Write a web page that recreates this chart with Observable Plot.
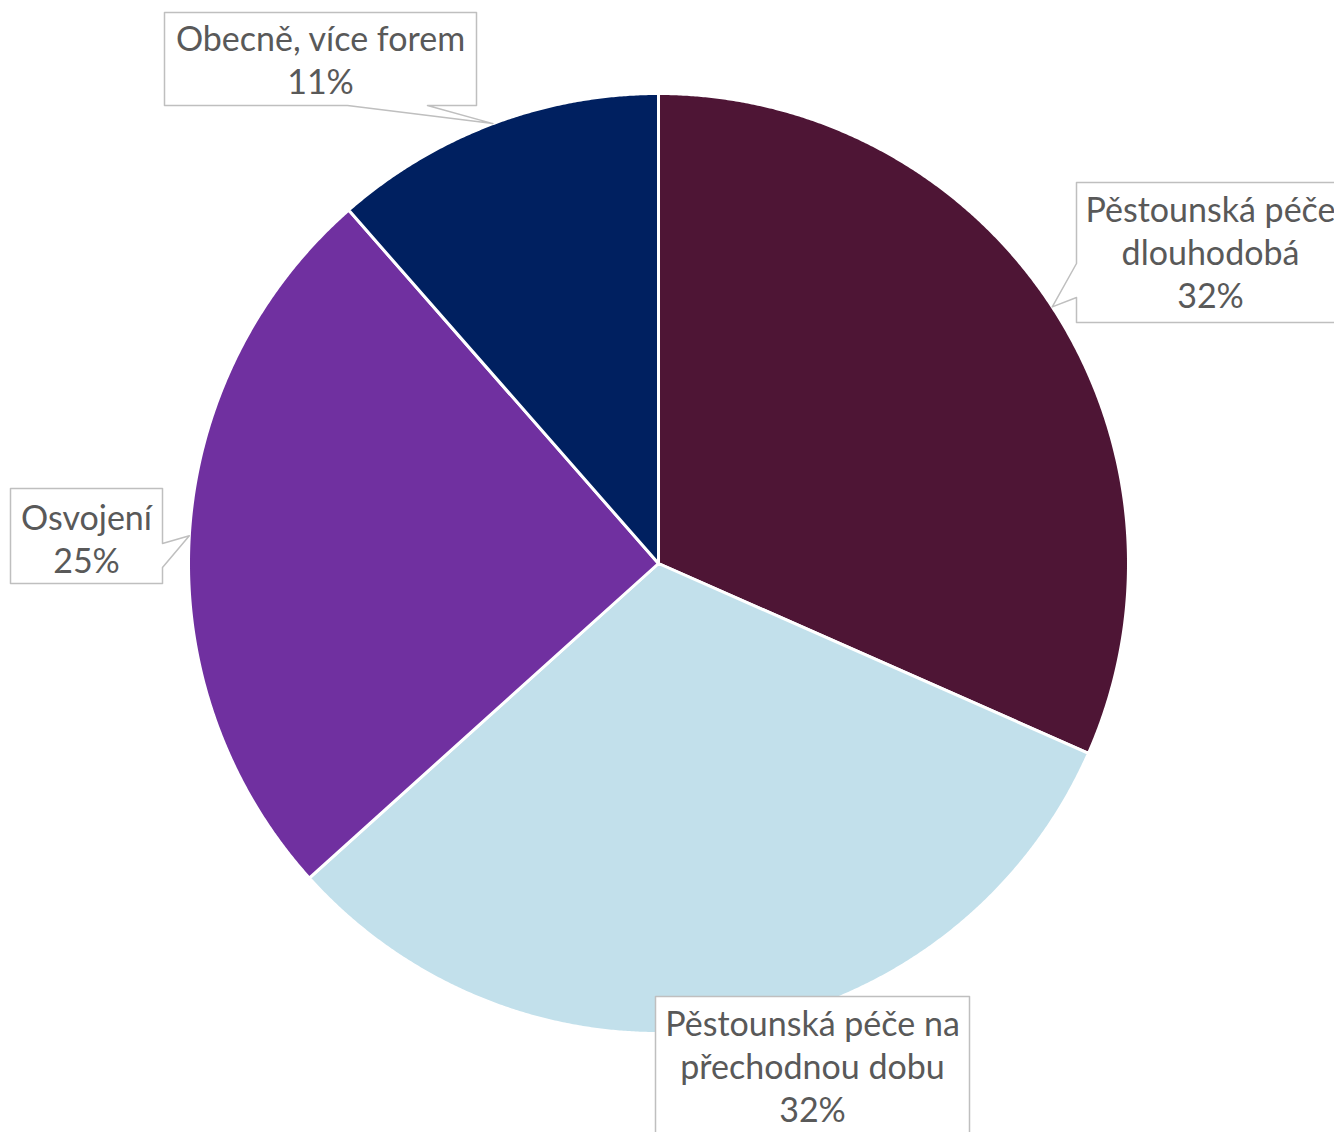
<!DOCTYPE html>
<html>
<head>
<meta charset="utf-8">
<script src="https://cdn.jsdelivr.net/npm/d3@7"></script>
<script src="https://cdn.jsdelivr.net/npm/@observablehq/plot@0.6"></script>
<style>
  html, body { margin: 0; padding: 0; background: #fff; }
  #chart svg { display: block; }
</style>
</head>
<body>
<div id="chart"></div>
<script>
// ---- data ----
const categories = [
  "Pěstounská péče dlouhodobá",
  "Pěstounská péče na přechodnou dobu",
  "Osvojení",
  "Obecně, více forem"
];
const shares = [31.6, 31.7, 25.2, 11.45];
const labelNames = [
  "Pěstounská péče\ndlouhodobá",
  "Pěstounská péče na\npřechodnou dobu",
  "Osvojení",
  "Obecně, více forem"
];
const sliceColors = ["#4E1535", "#C2E0EB", "#7030A0", "#002060"];

// ---- layout ----
const W = 1334, H = 1132;
const cx = 658, cy = 563, R = 470;
// callout boxes (pixel layout): side = where pointer leaves the box, b1/b2 = pointer base
const callouts = [
  {x0: 1076, x1: 1345, y0: 182, y1: 322, side: "left", b1: 263, b2: 297, ty: 251},
  {x0: 655, x1: 969, y0: 996, y1: 1145, side: "none", ty: 1065},
  {x0: 10, x1: 162, y0: 488, y1: 583, side: "right", b1: 543, b2: 567, ty: 537},
  {x0: 164, x1: 476, y0: 12, y1: 105, side: "bottom", b1: 347, b2: 427, ty: 58}
];

// ---- geometry from data ----
const total = d3.sum(shares);
let acc = 0;
const slices = shares.map((v, i) => {
  const a0 = acc / total * 2 * Math.PI;
  acc += v;
  const a1 = acc / total * 2 * Math.PI;
  return {name: categories[i], value: v, a0, a1, mid: (a0 + a1) / 2};
});
const px = (a, r) => cx + r * Math.sin(a);
const py = (a, r) => cy - r * Math.cos(a);

const slicePts = slices.flatMap(s => {
  const n = Math.max(2, Math.ceil((s.a1 - s.a0) / (Math.PI / 720)));
  const pts = [{name: s.name, x: cx, y: cy}];
  for (let k = 0; k <= n; k++) {
    const a = s.a0 + (s.a1 - s.a0) * k / n;
    pts.push({name: s.name, x: px(a, R), y: py(a, R)});
  }
  return pts;
});

const calloutPts = slices.flatMap((s, i) => {
  const c = callouts[i];
  const tip = {x: px(s.mid, R), y: py(s.mid, R)};
  let p;
  if (c.side === "left") {
    p = [[c.x0, c.y0], [c.x1, c.y0], [c.x1, c.y1], [c.x0, c.y1], [c.x0, c.b2], [tip.x, tip.y], [c.x0, c.b1]];
  } else if (c.side === "right") {
    p = [[c.x0, c.y0], [c.x1, c.y0], [c.x1, c.b1], [tip.x, tip.y], [c.x1, c.b2], [c.x1, c.y1], [c.x0, c.y1]];
  } else if (c.side === "bottom") {
    p = [[c.x0, c.y0], [c.x1, c.y0], [c.x1, c.y1], [c.b2, c.y1], [tip.x, tip.y], [c.b1, c.y1], [c.x0, c.y1]];
  } else {
    p = [[c.x0, c.y0], [c.x1, c.y0], [c.x1, c.y1], [c.x0, c.y1]];
  }
  return p.map(([x, y]) => ({name: s.name, x, y}));
});

const labels = slices.map((s, i) => ({
  text: labelNames[i] + "\n" + Math.round(s.value / total * 100) + "%",
  x: (callouts[i].x0 + Math.min(callouts[i].x1, W + 8)) / 2,
  y: callouts[i].ty
}));
labels[0].x = 1210;

const chart = Plot.plot({
  width: W,
  height: H,
  margin: 0,
  x: {domain: [0, W], range: [0, W], axis: null},
  y: {domain: [0, H], range: [0, H], axis: null},
  color: {type: "ordinal", domain: categories, range: sliceColors},
  style: {background: "white"},
  marks: [
    Plot.line(slicePts, {
      x: "x", y: "y", z: "name", fill: "name",
      stroke: "white", strokeWidth: 3, strokeLinejoin: "round",
      curve: "linear-closed"
    }),
    Plot.line(calloutPts, {
      x: "x", y: "y", z: "name", fill: "white",
      stroke: "#BFBFBF", strokeWidth: 1.5, curve: "linear-closed"
    }),
    Plot.text(labels, {
      x: "x", y: "y", text: "text",
      fontSize: 34, lineHeight: 1.27, lineAnchor: "middle",
      fontFamily: "Lato, 'Open Sans', sans-serif",
      fill: "#595959", textAnchor: "middle"
    })
  ]
});
document.getElementById("chart").appendChild(chart);
</script>
</body>
</html>
